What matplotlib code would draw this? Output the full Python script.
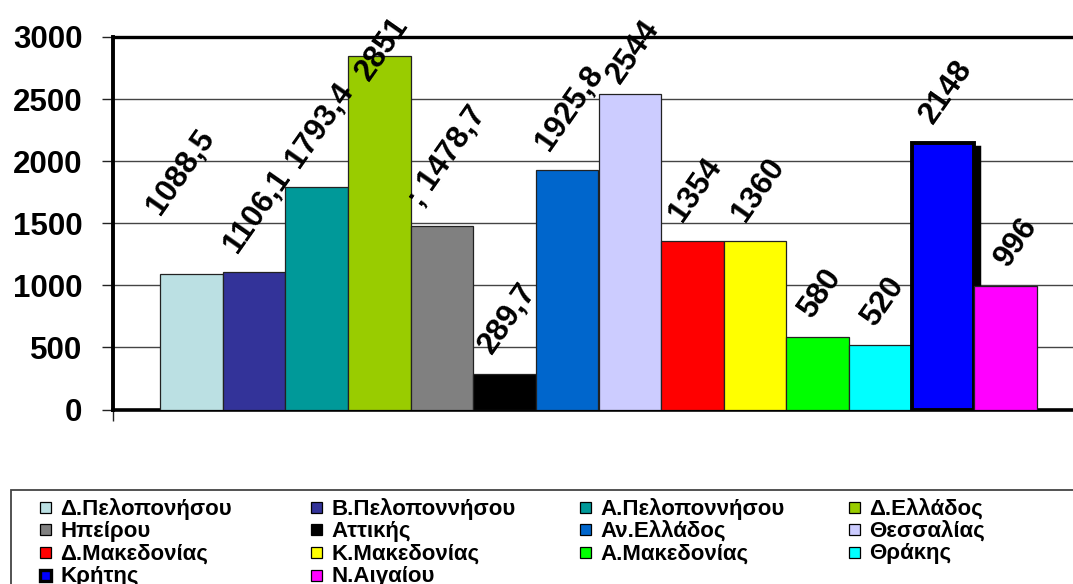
import matplotlib
matplotlib.use("Agg")
import matplotlib.pyplot as plt
from matplotlib.patches import Rectangle
from matplotlib.transforms import ScaledTranslation

plt.rcParams['font.family'] = ['Liberation Sans', 'DejaVu Sans']

regions = ["Δ.Πελοπονήσου", "Β.Πελοποννήσου", "Α.Πελοποννήσου", "Δ.Ελλάδος",
           "Ηπείρου", "Αττικής", "Αν.Ελλάδος", "Θεσσαλίας",
           "Δ.Μακεδονίας", "Κ.Μακεδονίας", "Α.Μακεδονίας", "Θράκης",
           "Κρήτης", "Ν.Αιγαίου"]
values = [1088.5, 1106.1, 1793.4, 2851, 1478.7, 289.7, 1925.8, 2544,
          1354, 1360, 580, 520, 2148, 996]
value_labels = ["1088,5", "1106,1", "1793,4", "2851", "; 1478,7", "289,7", "1925,8",
                "2544", "1354", "1360", "580", "520", "2148", "996"]
yticks = [0, 500, 1000, 1500, 2000, 2500, 3000]

colors = ["#BBE0E3", "#333399", "#009999", "#99CC00", "#808080", "#000000",
          "#0066CC", "#CCCCFF", "#FF0000", "#FFFF00", "#00FF00", "#00FFFF",
          "#0000FF", "#FF00FF"]

# label placement tweaks (pixels)
lab_dx = [-10, 3, 3, 3, 5, 3, 3, 3, 3, 3, 3, 3, 3, 11]
lab_dy = [54, 14, 14, -31, 14, 14, 14, 5, 14, 14, 14, 14, 14, 14]

W, H = 1073, 584
fig = plt.figure(figsize=(W / 100, H / 100), dpi=100)
fig.patch.set_facecolor("white")

def fx(x):
    return x / W

def fy(y):
    return 1 - y / H

left, right, top, bottom = 113, 1084, 37, 409.5
ax = fig.add_axes([fx(left), fy(bottom), (right - left) / W, (bottom - top) / H])

xs = list(range(len(values)))
bars = ax.bar(xs, values, width=1.0, color=colors, edgecolor="#222222",
              linewidth=0.9, zorder=3)
# Crete bar: thick border with shadow
ci = regions.index("Κρήτης")
shadow_tr = ax.transData + ScaledTranslation(5 / 100, -4 / 100, fig.dpi_scale_trans)
ax.bar([xs[ci]], [values[ci]], width=1.0, color="black", edgecolor="black",
       linewidth=2.5, zorder=2.9, transform=shadow_tr)
bars[ci].set_edgecolor("black")
bars[ci].set_linewidth(2.8)

ax.set_xlim(-1.25, 14.25)
ax.set_ylim(0, 3000)
ax.set_yticks(yticks)
ax.set_yticklabels([str(t) for t in yticks], fontsize=22.5, fontweight="bold")
ax.tick_params(axis="y", direction="out", length=8, width=1, pad=14, color="#222222")
ax.set_xticks([-1.25])
ax.set_xticklabels([""])
ax.tick_params(axis="x", direction="out", length=8, width=1, color="#222222")

ax.yaxis.grid(True, color="#444444", linewidth=1.0, zorder=0)
ax.set_axisbelow(True)
for s in ["left", "bottom", "top"]:
    ax.spines[s].set_color("black")
ax.spines["left"].set_linewidth(2.8)
ax.spines["bottom"].set_linewidth(2.6)
ax.spines["top"].set_linewidth(2.4)
ax.spines["right"].set_visible(False)

for i, (v, lab) in enumerate(zip(values, value_labels)):
    ax.annotate(lab, xy=(i, v), xytext=(lab_dx[i], lab_dy[i]),
                textcoords="offset pixels", rotation=55, ha="center", va="bottom",
                fontsize=22.5, fontweight="bold", color="black",
                annotation_clip=False, zorder=5)

# Legend (manual, Excel-like)
fig.add_artist(Rectangle((fx(10.7), fy(600)), (1090 - 10.7) / W, (600 - 490) / H,
                         transform=fig.transFigure, facecolor="white",
                         edgecolor="#444444", linewidth=1.3, clip_on=False))
col_x = [40, 311, 580, 849]
row_y = [507, 529.7, 552.4, 575.1]
for k, (name, c) in enumerate(zip(regions, colors)):
    r, cc = divmod(k, 4)
    mx, my = col_x[cc], row_y[r]
    lw = 2.4 if name == "Κρήτης" else 0.9
    fig.add_artist(Rectangle((fx(mx), fy(my + 5.5)), 11 / W, 11 / H,
                             transform=fig.transFigure, facecolor=c,
                             edgecolor="black", linewidth=lw, clip_on=False))
    fig.text(fx(mx + 20.5), fy(my + 1.5), name, fontsize=16, fontweight="bold",
             ha="left", va="center", color="black")

fig.savefig("out.png", dpi=100, facecolor="white")
